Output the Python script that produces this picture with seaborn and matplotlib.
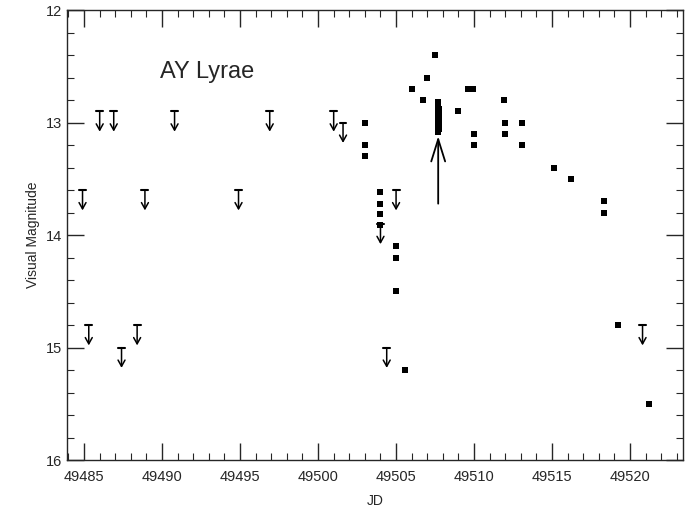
import numpy as np
import pandas as pd
import matplotlib
matplotlib.use('Agg')
import matplotlib.pyplot as plt
import seaborn as sns
from matplotlib.ticker import MultipleLocator

# ---------------------------------------------------------------------------
# data
# ---------------------------------------------------------------------------

# detections (filled squares)
det_jd = [49503.0, 49503.0, 49503.0,
          49504.0, 49504.0, 49504.0, 49504.0,
          49505.0, 49505.0, 49505.0, 49505.6,
          49506.0, 49506.7, 49507.0, 49507.5,
          49507.7, 49507.7, 49507.75, 49507.7, 49507.75, 49507.7,
          49507.75, 49507.7, 49507.75, 49507.7, 49507.75, 49507.7,
          49509.0, 49509.6, 49509.9, 49510.0, 49510.0,
          49511.9, 49512.0, 49512.0, 49513.1, 49513.1,
          49515.1, 49516.2, 49518.3, 49518.3, 49519.2, 49521.2]
det_mag = [13.0, 13.2, 13.3,
           13.62, 13.72, 13.81, 13.91,
           14.1, 14.2, 14.5, 15.2,
           12.7, 12.8, 12.6, 12.4,
           12.82, 12.85, 12.88, 12.9, 12.93, 12.95,
           12.97, 13.0, 13.02, 13.04, 13.06, 13.08,
           12.9, 12.7, 12.7, 13.1, 13.2,
           12.8, 13.0, 13.1, 13.0, 13.2,
           13.4, 13.5, 13.7, 13.8, 14.8, 15.5]

# upper limits (fainter than)
lim_jd = [49484.9, 49485.3, 49486.0, 49486.9, 49487.4, 49488.4, 49488.9,
          49490.8, 49494.9, 49496.9, 49501.0, 49501.6, 49504.0, 49504.4,
          49505.0, 49520.8]
lim_mag = [13.6, 14.8, 12.9, 12.9, 15.0, 14.8, 13.6,
           12.9, 13.6, 12.9, 12.9, 13.0, 13.9, 15.0,
           13.6, 14.8]

# outburst marker arrow
arrow_jd = 49507.7
arrow_from = 13.72
arrow_to = 13.12

det = pd.DataFrame({'JD': det_jd, 'mag': det_mag})

# ---------------------------------------------------------------------------
# plot
# ---------------------------------------------------------------------------
sns.set_style('ticks')
plt.rcParams['font.family'] = ['Liberation Sans', 'DejaVu Sans']

fig = plt.figure(figsize=(6.9, 5.09), dpi=100)
ax = fig.add_axes([0.097, 0.096, 0.893, 0.884])

sns.scatterplot(data=det, x='JD', y='mag', marker='s', s=22, color='black',
                edgecolor='black', linewidth=0, ax=ax, legend=False)

# upper limit symbols: short bar + downward arrow
for x, m in zip(lim_jd, lim_mag):
    ax.annotate('', xy=(x, m + 0.18), xytext=(x, m),
                arrowprops=dict(arrowstyle='->,head_length=0.45,head_width=0.25',
                                color='black', lw=1.1, shrinkA=0, shrinkB=0))
    ax.plot([x - 0.22, x + 0.22], [m, m], color='black', lw=1.5)

ax.annotate('', xy=(arrow_jd, arrow_to), xytext=(arrow_jd, arrow_from),
            arrowprops=dict(arrowstyle='->,head_length=1.6,head_width=0.5',
                            color='black', lw=1.3, shrinkA=0, shrinkB=0))

ax.text(49492.9, 12.55, 'AY Lyrae', fontsize=17, ha='center', va='center')

ax.set_xlim(49483.9, 49523.4)
ax.set_ylim(16, 12)
ax.xaxis.set_major_locator(MultipleLocator(5))
ax.xaxis.set_minor_locator(MultipleLocator(1))
ax.yaxis.set_major_locator(MultipleLocator(1))
ax.yaxis.set_minor_locator(MultipleLocator(0.2))
ax.tick_params(which='both', direction='in', top=True, right=True, labelsize=10.5)
ax.tick_params(which='major', length=12, width=1)
ax.tick_params(which='minor', length=5, width=0.8)
ax.tick_params(axis='x', which='major', pad=7)
for s in ax.spines.values():
    s.set_linewidth(1.0)

ax.set_xlabel('JD', fontsize=10, labelpad=7)
ax.set_ylabel('Visual Magnitude', fontsize=10)

fig.savefig('out.png', dpi=100)
